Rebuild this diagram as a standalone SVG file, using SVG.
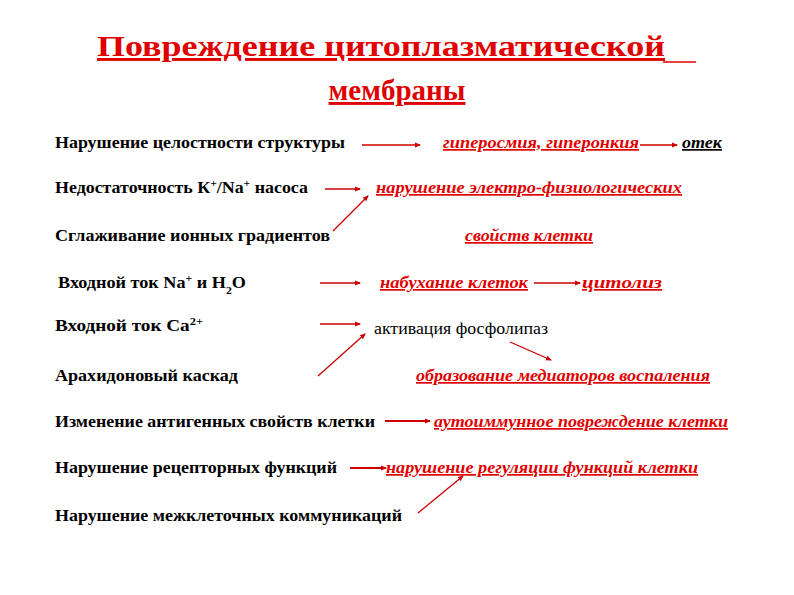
<svg xmlns="http://www.w3.org/2000/svg" width="794" height="595" viewBox="0 0 794 595" font-family="Liberation Serif, DejaVu Serif, serif">
<style>
text{font-family:'Liberation Serif','DejaVu Serif',serif;font-weight:bold;font-size:17px}
.k{fill:#000}
.r{fill:#e00000;font-style:italic;text-decoration:underline}
.t{fill:#e00000;font-size:29px;text-decoration:underline}
.n{font-weight:normal}
.c line{stroke:#cc0000;stroke-width:1.3;marker-end:url(#a)}
</style>
<defs><marker id="a" markerWidth="6" markerHeight="6" refX="5" refY="3" orient="auto" markerUnits="userSpaceOnUse"><path d="M0,0.5L6,3L0,5.5z" fill="#cc0000"/></marker></defs>
<rect width="794" height="595" fill="#fff"/>
<g id="title">
<text class="t" x="97" y="56" textLength="568" lengthAdjust="spacingAndGlyphs">Повреждение цитоплазматической</text>
<line x1="663" y1="62" x2="696" y2="62" stroke="#e00000" stroke-width="1.5"/>
<text class="t" x="397" y="100" text-anchor="middle">мембраны</text>
</g>
<g id="n1"><text class="k" x="55" y="148" textLength="290" lengthAdjust="spacingAndGlyphs">Нарушение целостности структуры</text></g>
<g id="n2"><text class="r" x="443" y="148" textLength="196" lengthAdjust="spacingAndGlyphs">гиперосмия, гиперонкия</text></g>
<g id="n3"><text class="r" x="682" y="148" textLength="40" lengthAdjust="spacingAndGlyphs" style="fill:#000">отек</text></g>
<g id="n4"><text class="k" x="55" y="193" textLength="253" lengthAdjust="spacingAndGlyphs">Недостаточность К<tspan baseline-shift="super" font-size="11">+</tspan>/Na<tspan baseline-shift="super" font-size="11">+</tspan> насоса</text></g>
<g id="n5"><text class="r" x="376" y="193" textLength="306" lengthAdjust="spacingAndGlyphs">нарушение электро-физиологических </text></g>
<g id="n6"><text class="k" x="55" y="241" textLength="275" lengthAdjust="spacingAndGlyphs">Сглаживание ионных градиентов</text></g>
<g id="n7"><text class="r" x="465" y="241" textLength="128" lengthAdjust="spacingAndGlyphs">свойств клетки</text></g>
<g id="n8"><text class="k" x="58" y="288" textLength="188" lengthAdjust="spacingAndGlyphs">Входной ток Na<tspan baseline-shift="super" font-size="11">+</tspan> и H<tspan baseline-shift="sub" font-size="11">2</tspan>O</text></g>
<g id="n9"><text class="r" x="380" y="288" textLength="148" lengthAdjust="spacingAndGlyphs">набухание клеток </text></g>
<g id="n10"><text class="r" x="582" y="288" textLength="80" lengthAdjust="spacingAndGlyphs"> цитолиз</text></g>
<g id="n11"><text class="k" x="55" y="331" textLength="148" lengthAdjust="spacingAndGlyphs">Входной ток Ca<tspan baseline-shift="super" font-size="11">2+</tspan></text></g>
<g id="n12"><text class="k n" x="374" y="334" textLength="174" lengthAdjust="spacingAndGlyphs">активация фосфолипаз</text></g>
<g id="n13"><text class="k" x="55" y="381" textLength="183" lengthAdjust="spacingAndGlyphs">Арахидоновый каскад</text></g>
<g id="n14"><text class="r" x="416" y="381" textLength="294" lengthAdjust="spacingAndGlyphs">образование медиаторов воспаления</text></g>
<g id="n15"><text class="k" x="55" y="427" textLength="320" lengthAdjust="spacingAndGlyphs">Изменение антигенных свойств клетки</text></g>
<g id="n16"><text class="r" x="434" y="427" textLength="294" lengthAdjust="spacingAndGlyphs">аутоиммунное повреждение клетки</text></g>
<g id="n17"><text class="k" x="55" y="473" textLength="282" lengthAdjust="spacingAndGlyphs">Нарушение рецепторных функций</text></g>
<g id="n18"><text class="r" x="386" y="473" textLength="312" lengthAdjust="spacingAndGlyphs">нарушение регуляции функций клетки</text></g>
<g id="n19"><text class="k" x="55" y="521" textLength="347" lengthAdjust="spacingAndGlyphs">Нарушение межклеточных коммуникаций</text></g>
<g id="connectors" class="c">
<line x1="362" y1="145" x2="420" y2="145"/>
<line x1="640" y1="145" x2="677" y2="145"/>
<line x1="325" y1="189" x2="360" y2="189"/>
<line x1="333" y1="231" x2="368" y2="196"/>
<line x1="320" y1="283" x2="360" y2="283"/>
<line x1="534" y1="283" x2="580" y2="283"/>
<line x1="320" y1="324" x2="360" y2="324"/>
<line x1="318" y1="376" x2="365" y2="334"/>
<line x1="510" y1="342" x2="551" y2="360"/>
<line x1="385" y1="421" x2="430" y2="421" style="stroke-width:2"/>
<line x1="350" y1="468" x2="386" y2="468" style="stroke-width:2"/>
<line x1="418" y1="513" x2="463" y2="476"/>
</g>
</svg>
